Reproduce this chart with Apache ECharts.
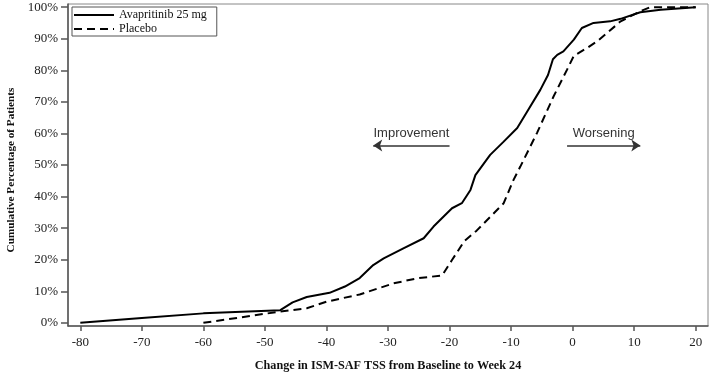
<!DOCTYPE html>
<html><head><meta charset="utf-8">
<script src="https://cdn.jsdelivr.net/npm/echarts@6/dist/echarts.min.js"></script>
<style>html,body{margin:0;padding:0;background:#fff}#c{width:712px;height:372px}</style>
</head><body><div id="c"></div>
<script>
const seriesNames = ['Avapritinib 25 mg', 'Placebo'];
const avapX = [-80,-70,-60,-47.5,-45.5,-43.2,-39.5,-37,-34.6,-32.4,-30.7,-27.5,-24.2,-22.6,-19.6,-18,-16.6,-15.8,-13.4,-11.2,-9,-7.4,-5.25,-4,-3.2,-2.5,-1.5,0.2,1.5,3.4,6.1,7.8,11,14.3,20];
const avapY = [0,1.5,3.0,4.0,6.5,8.2,9.5,11.5,14.2,18.3,20.4,23.6,26.8,30.5,36.3,37.9,42.1,46.8,53.2,57.4,61.7,66.9,73.8,78.5,83.5,84.9,86,89.7,93.4,95,95.5,96.3,98.4,99.2,100];
const placeboX = [-60,-47.8,-43.2,-40,-34.6,-29.1,-25.3,-21.2,-19.6,-17.6,-15.6,-11.2,-9.6,-8.5,-5.8,-3.1,-0.9,0.2,2.3,4,5.6,7.8,11,12.6,20];
const placeboY = [0,3.5,4.6,6.7,9.0,12.5,14.1,15,19.9,25.9,29.2,37.9,45.3,49.5,60.1,71.7,80.2,84.6,87,89.2,91.8,95.5,98.7,100,100];
const xTicks = [-80,-70,-60,-50,-40,-30,-20,-10,0,10,20];
const yTicks = [0,10,20,30,40,50,60,70,80,90,100];
const xTitle = 'Change in ISM-SAF TSS from Baseline to Week 24';
const yTitle = 'Cumulative Percentage of Patients';
const annotLabels = ['Improvement', 'Worsening'];
const annotX = [[-32.4, -20], [-0.9, 11]];
const annotY = 56.2;

const zip = (xs, ys) => xs.map((x, i) => [x, ys[i]]);
const serif = '"Liberation Serif", "Times New Roman", serif';
const sans = '"Liberation Sans", Arial, sans-serif';
const axisCol = '#555';

const chart = echarts.init(document.getElementById('c'), null, {renderer: 'canvas'});
chart.setOption({
  animation: false,
  backgroundColor: '#fff',
  grid: {left: 68, right: 4, top: 4, bottom: 46, show: true, borderColor: '#888', borderWidth: 1,
         containLabel: false, outerBoundsMode: 'none'},
  legend: {
    left: 72, top: 7, orient: 'vertical',
    itemWidth: 40, itemHeight: 10, itemGap: 2,
    padding: [2, 10, 1, 1],
    borderColor: '#555', borderWidth: 1,
    itemStyle: {opacity: 0},
    textStyle: {fontFamily: serif, fontSize: 12, color: '#111'},
    data: seriesNames
  },
  xAxis: {
    type: 'value', min: -82, max: 22,
    name: xTitle, nameLocation: 'middle', nameGap: 34,
    nameTextStyle: {fontFamily: serif, fontSize: 12.2, fontWeight: 'bold', color: '#111'},
    axisLine: {show: true, onZero: false, lineStyle: {color: axisCol, width: 1.5}},
    axisTick: {show: true, customValues: xTicks, length: 5, lineStyle: {color: axisCol, width: 1.5}},
    axisLabel: {customValues: xTicks, fontFamily: serif, fontSize: 13, color: '#222', margin: 10},
    splitLine: {show: false}
  },
  yAxis: {
    type: 'value', min: -1, max: 101,
    name: yTitle, nameLocation: 'middle', nameGap: 51,
    nameTextStyle: {fontFamily: serif, fontSize: 11.2, fontWeight: 'bold', color: '#111', padding: [0, 10, 0, 0]},
    axisLine: {show: true, onZero: false, lineStyle: {color: axisCol, width: 1.5}},
    axisTick: {show: true, customValues: yTicks, length: 7, lineStyle: {color: axisCol, width: 1.5}},
    axisLabel: {customValues: yTicks, formatter: '{value}%', fontFamily: serif, fontSize: 13, color: '#222', margin: 10},
    splitLine: {show: false}
  },
  series: [
    {
      name: seriesNames[0], type: 'line', data: zip(avapX, avapY), symbol: 'none', smooth: false,
      lineStyle: {color: '#000', width: 2, type: 'solid'}, itemStyle: {color: '#000'},
      markLine: {
        silent: true, symbolSize: [9, 9], precision: 2,
        lineStyle: {color: '#333', width: 1.5, type: 'solid'},
        label: {show: true, position: 'insideMiddleTop', distance: 6, fontFamily: sans, fontSize: 13, color: '#333'},
        data: [
          [{coord: [annotX[0][0], annotY], symbol: 'arrow', label: {formatter: annotLabels[0]}}, {coord: [annotX[0][1], annotY], symbol: 'none'}],
          [{coord: [annotX[1][0], annotY], symbol: 'none', label: {formatter: annotLabels[1]}}, {coord: [annotX[1][1], annotY], symbol: 'arrow'}]
        ]
      }
    },
    {
      name: seriesNames[1], type: 'line', data: zip(placeboX, placeboY), symbol: 'none', smooth: false,
      lineStyle: {color: '#000', width: 2, type: [8, 5]}, itemStyle: {color: '#000'}
    }
  ]
});
</script></body></html>
